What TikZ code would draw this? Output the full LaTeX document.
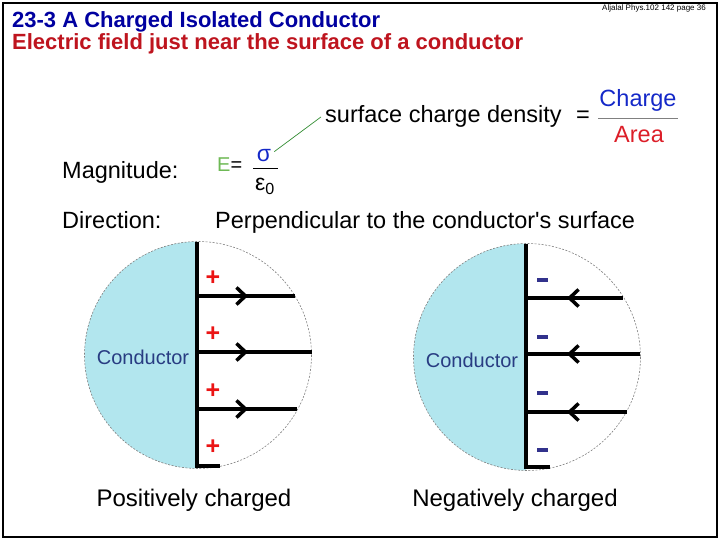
\documentclass[tikz,border=0pt]{standalone}
\usepackage{fontspec}
\setmainfont{Liberation Sans}
\usetikzlibrary{arrows.meta, decorations.markings}
\definecolor{tblue}{RGB}{0, 0, 160}
\definecolor{tred}{RGB}{190, 20, 30}
\definecolor{egreen}{RGB}{110, 185, 85}
\definecolor{lgreen}{RGB}{50, 140, 50}
\definecolor{sblue}{RGB}{20, 40, 200}
\definecolor{ared}{RGB}{220, 30, 40}
\definecolor{condfill}{RGB}{178, 230, 238}
\definecolor{condtext}{RGB}{40, 60, 130}
\definecolor{qred}{RGB}{235, 20, 20}
\definecolor{qblue}{RGB}{50, 50, 140}

\begin{document}
\begin{tikzpicture}[
    x=1pt, y=-1pt,
    titleA/.style={anchor=base west, inner sep=0pt, text=tblue, font=\bfseries\fontsize{22}{26}\selectfont},
    titleB/.style={titleA, text=tred},
    tag/.style={anchor=base east, inner sep=0pt, font=\fontsize{8}{9}\selectfont},
    body/.style={anchor=base west, inner sep=0pt, font=\fontsize{23.5}{28}\selectfont},
    eqtext/.style={inner sep=0pt, font=\fontsize{23}{26}\selectfont},
    fractext/.style={inner sep=0pt, font=\fontsize{23.5}{28}\selectfont},
    caption/.style={anchor=base, inner sep=0pt, font=\fontsize{24}{28}\selectfont},
    condlabel/.style={inner sep=0pt, text=condtext, font=\fontsize{20}{24}\selectfont},
    plus/.style={inner sep=0pt, text=qred, font=\bfseries\fontsize{25}{28}\selectfont},
    minus/.style={inner sep=0pt, fill=qblue, minimum width=11pt, minimum height=3.5pt},
    boundary/.style={draw=gray, dash pattern=on 2pt off 1.5pt, line width=0.6pt},
    surface/.style={line width=3.5pt},
    outfield/.style={line width=3.5pt, postaction={decorate},
        decoration={markings, mark=at position 51pt with {\arrow{Straight Barb[length=9pt, width=17pt]}}}},
    infield/.style={line width=3.5pt, postaction={decorate},
        decoration={markings, mark=at position 41pt with {\arrowreversed{Straight Barb[length=9pt, width=17pt]}}}},
    pointer/.style={draw=lgreen, line width=0.7pt}
]
    \useasboundingbox (0,0) rectangle (720,540);
    \draw[line width=2pt] (3,3) rectangle (717,537);

    % Heading
    \node[titleA] (title) at (12,28) {23-3 A Charged Isolated Conductor};
    \node[titleB] (subtitle) at (12,50) {Electric field just near the surface of a conductor};
    \node[tag] (tag) at (706,11) {Aljalal Phys.102 142 page 36};

    % Surface charge density
    \node[body] (scd) at (325,123) {surface charge density};
    \node[fractext] (deq) at (583,117) {=};
    \node[fractext, text=sblue] (charge) at (638,100) {Charge};
    \node[fractext, text=ared] (area) at (639,135) {Area};
    \draw[gray, line width=0.6pt] (598,118) -- (678,118);

    % Magnitude
    \node[body] (mag) at (62,179) {Magnitude:};
    \node[inner sep=0pt, anchor=base west, font=\fontsize{20}{24}\selectfont] (E) at (217,172) {\textcolor{egreen}{E}=};
    \node[eqtext, text=sblue] (sigma) at (264,156) {σ};
    \draw[line width=0.8pt] (253,168) -- (278,168);
    \node[eqtext, anchor=base west] (eps) at (255,191) {ε\textsubscript{0}};
    \draw[pointer] ([shift={(3pt,-2pt)}]sigma.north east) -- ([xshift=-4pt]scd.west);

    % Direction
    \node[body] (dir) at (62,229) {Direction:};
    \node[body] (perp) at (215,229) {Perpendicular to the conductor\textquotesingle s surface};

    % Positive conductor
    \begin{scope}
        \clip (80,238) rectangle (197,472);
        \fill[condfill] (198,355) circle (113.5);
    \end{scope}
    \draw[boundary] (198,355) circle (113.5);
    \draw[surface] (197,242) -- (197,466) -- (220,466);
    \foreach \i/\y/\xe in {1/296/295, 2/352/312, 3/409/297} {
        \coordinate (ls\i) at (197,\y);
        \coordinate (le\i) at (\xe,\y);
        \draw[outfield] (ls\i) -- (le\i);
    }
    \foreach \i/\y in {1/278, 2/334, 3/391, 4/447}
        \node[plus] (plus\i) at (213,\y) {+};
    \node[condlabel] (lcond) at (143,357) {Conductor};
    \node[caption] (pos) at (194,506) {Positively charged};

    % Negative conductor
    \begin{scope}
        \clip (410,240) rectangle (526,475);
        \fill[condfill] (527,357) circle (113.5);
    \end{scope}
    \draw[boundary] (527,357) circle (113.5);
    \draw[surface] (526,244) -- (526,467) -- (550,467);
    \foreach \i/\y/\xe in {1/298/623, 2/354/640, 3/412/627} {
        \coordinate (rs\i) at (526,\y);
        \coordinate (re\i) at (\xe,\y);
        \draw[infield] (rs\i) -- (re\i);
    }
    \foreach \i/\y in {1/280, 2/337, 3/393, 4/450}
        \node[minus] (minus\i) at (542,\y) {};
    \node[condlabel] (rcond) at (472,360) {Conductor};
    \node[caption] (neg) at (515,506) {Negatively charged};
\end{tikzpicture}
\end{document}
